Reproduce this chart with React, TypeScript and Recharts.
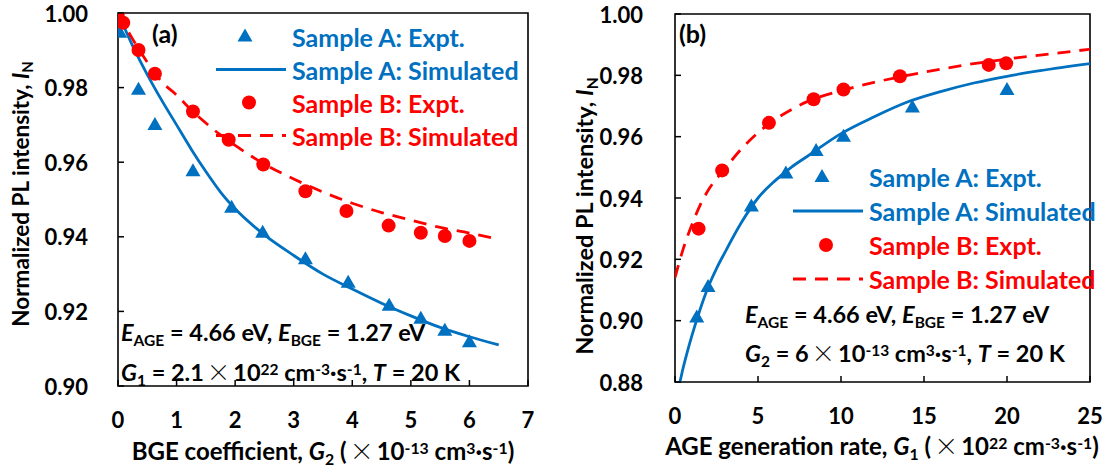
import React from 'react';
import { ComposedChart, Line, Scatter, XAxis, YAxis, ReferenceArea, Legend } from 'recharts';

const BLUE = '#0070C0';
const RED = '#FF0000';
const FONT = 'Lato, "Open Sans", sans-serif';

// (a) PL intensity vs BGE coefficient G2 (x10^-13 cm^3/s)
const g2ExptA = [0, 0.03, 0.35, 0.63, 1.28, 1.94, 2.47, 3.2, 3.93, 4.63, 5.17, 5.58, 6.0];
const plExptA_a = [1.0, 0.9947, 0.9794, 0.97, 0.9576, 0.9478, 0.9411, 0.934, 0.9277, 0.9215, 0.918, 0.9148, 0.9117];
const g2ExptB = [0, 0.09, 0.35, 0.63, 1.28, 1.89, 2.48, 3.2, 3.9, 4.62, 5.17, 5.58, 6.0];
const plExptB_a = [1.0, 0.9974, 0.9901, 0.9837, 0.9736, 0.966, 0.9594, 0.9522, 0.9469, 0.943, 0.9411, 0.9402, 0.9389];
const g2Sim = [0, 0.25, 0.5, 0.75, 1, 1.25, 1.5, 1.75, 2, 2.5, 3, 3.5, 4, 4.5, 5, 5.5, 6, 6.5];
const plSimA_a = [1.0, 0.9912, 0.9835, 0.9765, 0.97, 0.9635, 0.9575, 0.952, 0.9475, 0.9405, 0.935, 0.93, 0.926, 0.9222, 0.9188, 0.9157, 0.9132, 0.911];
const plSimB_a = [1.0, 0.993, 0.9868, 0.9815, 0.978, 0.974, 0.9705, 0.9673, 0.9645, 0.9595, 0.9555, 0.952, 0.949, 0.9465, 0.9445, 0.9425, 0.941, 0.9393];

// (b) PL intensity vs AGE generation rate G1 (x10^22 cm^-3/s)
const g1ExptA = [1.31, 1.99, 4.6, 6.68, 8.5, 10.15, 14.3, 20.0];
const plExptA_b = [0.901, 0.911, 0.9372, 0.948, 0.9553, 0.96, 0.9695, 0.9752];
const g1ExptB = [1.42, 2.84, 5.66, 8.35, 10.15, 13.55, 18.9, 19.95];
const plExptB_b = [0.93, 0.949, 0.9645, 0.9722, 0.9754, 0.9797, 0.9834, 0.9839];
const g1SimA = [0.3, 0.5, 0.75, 1, 1.5, 2, 2.5, 3, 4, 5, 6, 7, 8, 10, 12, 14, 16, 18, 20, 22, 25];
const plSimA_b = [0.88, 0.8848, 0.89, 0.8948, 0.9035, 0.911, 0.917, 0.9222, 0.932, 0.94, 0.9455, 0.95, 0.9537, 0.961, 0.9665, 0.9713, 0.9747, 0.9775, 0.9797, 0.9815, 0.9838];
const g1SimB = [0, 0.5, 1, 1.5, 2, 3, 4, 5, 6, 7, 8, 10, 12, 14, 16, 18, 20, 22, 25];
const plSimB_b = [0.914, 0.9235, 0.931, 0.9375, 0.9425, 0.9495, 0.956, 0.9613, 0.9655, 0.9688, 0.9715, 0.975, 0.9777, 0.98, 0.982, 0.9838, 0.9853, 0.9866, 0.9885];

const ticksXa = [0, 1, 2, 3, 4, 5, 6, 7];
const ticksYa = [0.9, 0.92, 0.94, 0.96, 0.98, 1.0];
const ticksXb = [0, 5, 10, 15, 20, 25];
const ticksYb = [0.88, 0.9, 0.92, 0.94, 0.96, 0.98, 1.0];

const legendLabels = ['Sample A: Expt.', 'Sample A: Simulated', 'Sample B: Expt.', 'Sample B: Simulated'];

type Pt = { x: number; y: number };
const zip = (xs: number[], ys: number[]): Pt[] => xs.map((x, i) => ({ x, y: ys[i] }));

const Triangle = (props: any) => {
  const { cx, cy } = props;
  return <path d={`M${cx},${cy - 8}L${cx + 7.5},${cy + 5}L${cx - 7.5},${cy + 5}Z`} fill={BLUE} />;
};
const Dot = (props: any) => <circle cx={props.cx} cy={props.cy} r={7} fill={RED} />;

const DASH = '13 9';
const tickText = { fontFamily: FONT, fontWeight: 700, fontSize: 22, fill: '#000' };

const makeXTick = (dy: number) => (props: any) => {
  const { x, y, payload } = props;
  return (
    <g>
      <line x1={x} y1={y} x2={x} y2={y - 6} stroke="#000" strokeWidth={1.5} />
      <text x={x} y={y + dy} textAnchor="middle" dominantBaseline="central" style={tickText}>
        {payload.value}
      </text>
    </g>
  );
};

const makeYTick = (gap: number) => (props: any) => {
  const { x, y, payload } = props;
  return (
    <g>
      <line x1={x} y1={y} x2={x + 6} y2={y} stroke="#000" strokeWidth={1.5} />
      <text x={x - gap} y={y} textAnchor="end" dominantBaseline="central" style={tickText}>
        {Number(payload.value).toFixed(2)}
      </text>
    </g>
  );
};

function LegendBox({ rowHeight }: { rowHeight: number }) {
  const colors = [BLUE, BLUE, RED, RED];
  const mid = rowHeight / 2;
  return (
    <div style={{ fontFamily: FONT, fontWeight: 700, fontSize: 25 }}>
      {legendLabels.map((label, i) => (
        <div key={label} style={{ display: 'flex', alignItems: 'center', height: rowHeight, color: colors[i] }}>
          <svg width={70} height={rowHeight}>
            {i === 0 && <Triangle cx={29} cy={mid} />}
            {i === 1 && <line x1={0} x2={70} y1={mid} y2={mid} stroke={BLUE} strokeWidth={3} />}
            {i === 2 && <Dot cx={33} cy={mid} />}
            {i === 3 && <line x1={0} x2={70} y1={mid} y2={mid} stroke={RED} strokeWidth={3} strokeDasharray={DASH} />}
          </svg>
          <span style={{ marginLeft: 6, whiteSpace: 'nowrap' }}>{label}</span>
        </div>
      ))}
    </div>
  );
}

const Sub = ({ children }: { children: React.ReactNode }) => (
  <span style={{ fontSize: '0.66em', position: 'relative', top: '0.3em' }}>{children}</span>
);
const Sup = ({ children }: { children: React.ReactNode }) => (
  <span style={{ fontSize: '0.66em', position: 'relative', top: '-0.4em' }}>{children}</span>
);
const Times = () => <span style={{ fontFamily: '"Noto Sans CJK SC"', fontWeight: 300, margin: '0 3px' }}>×</span>;

function Txt({ x, y, children, size = 23.5, center = false, rotate = false }: any) {
  const shift = center ? '-50%' : '0';
  return (
    <div
      style={{
        position: 'absolute',
        left: x,
        top: y,
        transform: `translate(${shift}, -50%)${rotate ? ' rotate(-90deg)' : ''}`,
        fontFamily: FONT,
        fontWeight: 700,
        fontSize: size,
        lineHeight: 1,
        whiteSpace: 'nowrap',
        color: '#000',
      }}
    >
      {children}
    </div>
  );
}

interface PanelProps {
  left: number;
  width: number;
  margin: { top: number; right: number; bottom: number; left: number };
  yWidth: number;
  yGap: number;
  xDomain: [number, number];
  yDomain: [number, number];
  xTicks: number[];
  yTicks: number[];
  xLabelDy: number;
  exptA: Pt[];
  exptB: Pt[];
  simA: Pt[];
  simB: Pt[];
  legendTop: number;
  legendLeft: number;
  legendRow: number;
}

function Panel(p: PanelProps) {
  return (
    <div style={{ position: 'absolute', left: p.left, top: 0 }}>
      <ComposedChart width={p.width} height={468} margin={p.margin}>
        <XAxis
          type="number"
          dataKey="x"
          domain={p.xDomain}
          ticks={p.xTicks}
          allowDataOverflow
          axisLine={false}
          tickLine={false}
          tickSize={0}
          tickMargin={0}
          height={40}
          tick={makeXTick(p.xLabelDy)}
          interval={0}
        />
        <YAxis
          type="number"
          domain={p.yDomain}
          ticks={p.yTicks}
          allowDataOverflow
          axisLine={false}
          tickLine={false}
          tickSize={0}
          tickMargin={0}
          width={p.yWidth}
          tick={makeYTick(p.yGap)}
          interval={0}
        />
        <ReferenceArea
          x1={p.xDomain[0]}
          x2={p.xDomain[1]}
          y1={p.yDomain[0]}
          y2={p.yDomain[1]}
          fill="none"
          fillOpacity={0}
          stroke="#000"
          strokeWidth={1.6}
        />
        <Line data={p.simA} dataKey="y" type="monotone" stroke={BLUE} strokeWidth={2.8} dot={false} isAnimationActive={false} />
        <Line
          data={p.simB}
          dataKey="y"
          type="monotone"
          stroke={RED}
          strokeWidth={2.8}
          strokeDasharray={DASH}
          dot={false}
          isAnimationActive={false}
        />
        <Scatter data={p.exptA} dataKey="y" shape={Triangle} isAnimationActive={false} />
        <Scatter data={p.exptB} dataKey="y" shape={Dot} isAnimationActive={false} />
        <Legend
          layout="vertical"
          align="center"
          verticalAlign="middle"
          wrapperStyle={{ top: p.legendTop, left: p.legendLeft, width: 'auto' }}
          content={() => <LegendBox rowHeight={p.legendRow} />}
        />
      </ComposedChart>
    </div>
  );
}

export default function App() {
  return (
    <div style={{ position: 'absolute', left: 0, top: 0, width: 1113, height: 468, background: '#fff' }}>
      <Panel
        left={0}
        width={560}
        margin={{ top: 13, right: 32, bottom: 42, left: 0 }}
        yWidth={118}
        yGap={30}
        xDomain={[0, 7]}
        yDomain={[0.9, 1.0]}
        xTicks={ticksXa}
        yTicks={ticksYa}
        xLabelDy={33}
        exptA={zip(g2ExptA, plExptA_a)}
        exptB={zip(g2ExptB, plExptB_a)}
        simA={zip(g2Sim, plSimA_a)}
        simB={zip(g2Sim, plSimB_a)}
        legendTop={20}
        legendLeft={216}
        legendRow={33}
      />
      <Panel
        left={560}
        width={553}
        margin={{ top: 14, right: 23, bottom: 46, left: 0 }}
        yWidth={115}
        yGap={32}
        xDomain={[0, 25]}
        yDomain={[0.88, 1.0]}
        xTicks={ticksXb}
        yTicks={ticksYb}
        xLabelDy={33}
        exptA={zip(g1ExptA, plExptA_b)}
        exptB={zip(g1ExptB, plExptB_b)}
        simA={zip(g1SimA, plSimA_b)}
        simB={zip(g1SimB, plSimB_b)}
        legendTop={160}
        legendLeft={233}
        legendRow={34}
      />

      <Txt x={152} y={33} size={25}>(a)</Txt>
      <Txt x={121} y={333}>
        <i>E</i><Sub>AGE</Sub> = 4.66 eV, <i>E</i><Sub>BGE</Sub> = 1.27 eV
      </Txt>
      <Txt x={121} y={372}>
        <i>G</i><Sub>1</Sub> = 2.1<Times />10<Sup>22</Sup> cm<Sup>-3</Sup>·s<Sup>-1</Sup>, <i>T</i> = 20 K
      </Txt>
      <Txt x={323} y={450} size={24} center>
        BGE coefficient, <i>G</i><Sub>2</Sub> (<Times />10<Sup>-13</Sup> cm<Sup>3</Sup>·s<Sup>-1</Sup>)
      </Txt>
      <Txt x={21} y={194} size={22.5} center rotate>
        Normalized PL intensity, <i>I</i><Sub>N</Sub>
      </Txt>

      <Txt x={679} y={33} size={25}>(b)</Txt>
      <Txt x={745} y={315}>
        <i>E</i><Sub>AGE</Sub> = 4.66 eV, <i>E</i><Sub>BGE</Sub> = 1.27 eV
      </Txt>
      <Txt x={745} y={353}>
        <i>G</i><Sub>2</Sub> = 6<Times />10<Sup>-13</Sup> cm<Sup>3</Sup>·s<Sup>-1</Sup>, <i>T</i> = 20 K
      </Txt>
      <Txt x={882} y={445} size={24} center>
        AGE generation rate, <i>G</i><Sub>1</Sub> (<Times />10<Sup>22</Sup> cm<Sup>-3</Sup>·s<Sup>-1</Sup>)
      </Txt>
      <Txt x={585} y={216} size={23.5} center rotate>
        Normalized PL intensity, <i>I</i><Sub>N</Sub>
      </Txt>
    </div>
  );
}
